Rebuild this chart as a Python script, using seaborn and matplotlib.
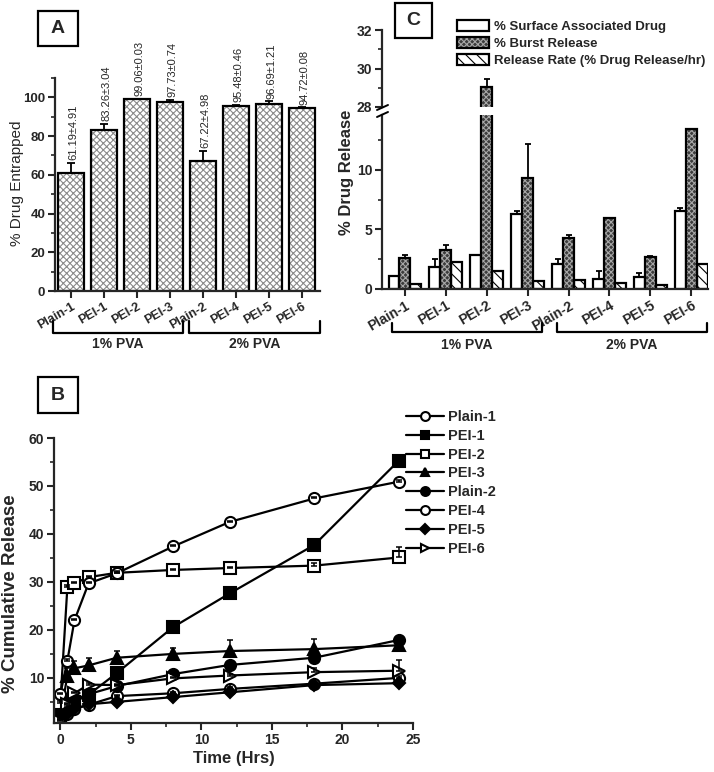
import numpy as np
import pandas as pd
import matplotlib
matplotlib.use("Agg")
import matplotlib.pyplot as plt
import seaborn as sns
from matplotlib.patches import Rectangle, Patch
from matplotlib.lines import Line2D
from matplotlib.ticker import MultipleLocator

sns.set_style("ticks")
plt.rcParams["font.family"] = ["Liberation Sans", "DejaVu Sans"]
plt.rcParams["font.weight"] = "bold"
plt.rcParams["hatch.linewidth"] = 0.8

W, H = 714, 772

# ---- data ----
samples = ["Plain-1", "PEI-1", "PEI-2", "PEI-3", "Plain-2", "PEI-4", "PEI-5", "PEI-6"]

# panel A: % drug entrapped (mean, sd)
entrap_mean = [61.19, 83.26, 99.06, 97.73, 67.22, 95.48, 96.69, 94.72]
entrap_sd = [4.91, 3.04, 0.03, 0.74, 4.98, 0.46, 1.21, 0.08]

# panel C: surface drug, burst release, release rate
surface = [1.05, 1.83, 2.86, 6.33, 2.10, 0.83, 0.97, 6.55]
surface_err = [0.05, 0.72, 0.03, 0.22, 0.45, 0.67, 0.36, 0.28]
burst = [2.64, 3.28, 29.06, 9.35, 4.25, 5.92, 2.72, 13.40]
burst_err = [0.22, 0.42, 0.42, 2.80, 0.28, 0.05, 0.05, 0.05]
rate = [0.42, 2.30, 1.47, 0.69, 0.72, 0.50, 0.36, 2.08]
measures = ["% Surface Associated Drug", "% Burst Release",
            "Release Rate (% Drug Release/hr)"]

# panel B: cumulative release vs time
time_h = [0, 0.5, 1, 2, 4, 8, 12, 18, 24]
cum_plain1 = [1.5, 2.5, 3.5, 4.4, 6.2, 6.8, 7.7, 8.8, 10.0]
cum_pei1 = [2.0, 3.5, 5.0, 6.5, 11.0, 20.6, 27.6, 37.7, 55.3]
cum_pei2 = [4.8, 29.0, 29.7, 31.0, 31.9, 32.5, 32.9, 33.4, 35.1]
cum_pei3 = [2.0, 10.5, 12.0, 12.6, 14.2, 15.0, 15.6, 16.0, 16.8]
cum_plain2 = [2.5, 4.0, 5.5, 6.6, 8.3, 10.8, 12.7, 14.2, 17.9]
cum_pei4 = [6.6, 13.6, 22.0, 29.7, 31.8, 37.4, 42.5, 47.4, 50.9]
cum_pei5 = [1.5, 2.5, 3.5, 4.5, 5.0, 6.0, 7.0, 8.5, 8.9]
cum_pei6 = [1.0, 4.5, 6.8, 8.6, 8.5, 9.9, 10.5, 11.2, 11.5]
err_pei2 = [0.3, 0.3, 0.3, 0.3, 0.3, 0.3, 0.3, 0.5, 2.2]
err_pei3 = [0.5, 1.5, 1.6, 1.6, 1.5, 1.3, 2.3, 2.2, 0.6]
err_pei6 = [0.3, 0.3, 0.3, 0.3, 0.3, 0.3, 0.3, 0.8, 2.3]
err_small = [0.3] * len(time_h)

fig = plt.figure(figsize=(W / 100, H / 100), dpi=100)


def px_axes(left, top, right, bottom):
    return fig.add_axes([left / W, 1 - bottom / H, (right - left) / W, (bottom - top) / H])


def fx(x):
    return x / W


def fy(y):
    return 1 - y / H


def style_axis(ax, spines=("left", "bottom"), labelsize=10):
    for s in ["top", "right", "left", "bottom"]:
        ax.spines[s].set_visible(s in spines)
        ax.spines[s].set_linewidth(1.6)
    ax.tick_params(which="major", direction="out", length=5, width=1.5, labelsize=labelsize, pad=2)
    ax.tick_params(which="minor", direction="out", length=3, width=1.2)


def hatch_bars(ax, patches, face, hatch, hatch_color):
    for p in patches:
        p.set_facecolor(face)
        p.set_hatch(hatch)
        p.set_edgecolor(hatch_color)
        p.set_linewidth(0)
        ax.add_patch(Rectangle(p.get_xy(), p.get_width(), p.get_height(), fill=False,
                               ec="black", lw=1.6, zorder=p.get_zorder() + 0.1))


def bracket(x0, x1, y_top, y_line, label, y_text):
    fig.add_artist(Line2D([fx(x0), fx(x0), fx(x1), fx(x1)],
                          [fy(y_top), fy(y_line), fy(y_line), fy(y_top)],
                          transform=fig.transFigure, color="black", lw=1.6))
    fig.text(fx((x0 + x1) / 2), fy(y_text), label, ha="center", va="center", fontsize=10)


def panel_box(x0, y0, x1, y1, letter):
    fig.add_artist(Rectangle((fx(x0), fy(y1)), fx(x1 - x0), (y1 - y0) / H, fill=False,
                             ec="black", lw=1.6, transform=fig.transFigure))
    fig.text(fx((x0 + x1) / 2), fy((y0 + y1) / 2), letter, ha="center", va="center", fontsize=14)


# =========================== Panel A ===========================
ax_a = px_axes(55, 78, 320, 291)
sns.barplot(x=samples, y=entrap_mean, ax=ax_a, color="white", width=0.77,
            errorbar=None, saturation=1)
hatch_bars(ax_a, ax_a.patches[:], "white", "xxxxx", "#8a8a8a")
ax_a.errorbar(range(len(samples)), entrap_mean, yerr=[np.zeros(len(samples)), entrap_sd],
              fmt="none", ecolor="black", elinewidth=1.3, capsize=3, capthick=1.3, zorder=5)
for i, (m, s) in enumerate(zip(entrap_mean, entrap_sd)):
    ax_a.text(i + 0.08, m + s + 1.5, f"{m:.2f}\u00b1{s:.2f}", rotation=90, ha="center",
              va="bottom", fontsize=8, fontweight="normal")
ax_a.set_ylim(0, 110)
ax_a.set_xlim(-0.48, 7.55)
ax_a.yaxis.set_major_locator(MultipleLocator(20))
ax_a.yaxis.set_minor_locator(MultipleLocator(10))
style_axis(ax_a, labelsize=9.5)
ax_a.set_xticks(range(len(samples)))
ax_a.set_xticklabels(samples, rotation=30, ha="right", rotation_mode="anchor", fontsize=9)
ax_a.set_ylabel("")
fig.text(fx(17), fy(183), "% Drug Entrapped", rotation=90, ha="center", va="center",
         fontsize=11, fontweight="normal")
bracket(53, 183, 321, 333, "1% PVA", 344)
bracket(189, 320, 321, 333, "2% PVA", 344)
panel_box(38, 11, 78, 46, "A")

# =========================== Panel C ===========================
rel = pd.DataFrame({
    "sample": samples * 3,
    "measure": [measures[0]] * 8 + [measures[1]] * 8 + [measures[2]] * 8,
    "value": surface + burst + rate,
})
ax_lo = px_axes(382, 115, 708, 289)
ax_hi = px_axes(382, 30, 708, 107)
styles = [("white", "", "black"), ("#3c3c3c", "xxxxxx", "#a8a8a8"), ("white", "\\\\\\", "black")]
for ax in (ax_lo, ax_hi):
    sns.barplot(data=rel, x="sample", y="value", hue="measure", hue_order=measures, ax=ax,
                width=0.8, errorbar=None, legend=False, saturation=1)
    for cont, (face, hatch, hc) in zip(ax.containers, styles):
        hatch_bars(ax, list(cont.patches), face, hatch, hc)
    for cont, vals, errs in zip(ax.containers[:2], [surface, burst], [surface_err, burst_err]):
        xs = [p.get_x() + p.get_width() / 2 for p in cont.patches]
        ax.errorbar(xs, vals, yerr=[np.zeros(len(vals)), errs], fmt="none", ecolor="black",
                    elinewidth=1.3, capsize=2.5, capthick=1.3, zorder=5)
    ax.set_xlim(-0.56, 7.41)
    ax.set_xlabel("")
    ax.set_ylabel("")

ax_lo.set_ylim(0, 14.6)
ax_lo.yaxis.set_major_locator(MultipleLocator(5))
ax_lo.yaxis.set_minor_locator(MultipleLocator(2.5))
style_axis(ax_lo)
ax_lo.set_xticks(range(len(samples)))
ax_lo.set_xticklabels(samples, rotation=30, ha="right", rotation_mode="anchor", fontsize=10)

ax_hi.set_ylim(28, 32)
ax_hi.yaxis.set_major_locator(MultipleLocator(2))
ax_hi.yaxis.set_minor_locator(MultipleLocator(1))
style_axis(ax_hi, spines=("left",))
ax_hi.set_xticks([])

for yb in (105, 112):
    fig.add_artist(Line2D([fx(377), fx(388)], [fy(yb + 5), fy(yb)], transform=fig.transFigure,
                          color="black", lw=1.4))
fig.text(fx(346), fy(172), "% Drug Release", rotation=90, ha="center", va="center", fontsize=12)

leg_handles = []
for face, hatch, hc in styles:
    leg_handles.append((Patch(facecolor=face, hatch=hatch, edgecolor=hc, lw=0),
                        Patch(fill=False, edgecolor="black", lw=1.6)))
fig.legend(leg_handles, measures, loc="upper left", bbox_to_anchor=(fx(457), fy(20)),
           frameon=False, fontsize=9.5, handlelength=2.4, handleheight=0.9,
           labelspacing=0.3, handletextpad=0.4, borderpad=0, borderaxespad=0)
bracket(392, 542, 323, 332, "1% PVA", 345)
bracket(557, 707, 323, 332, "2% PVA", 345)
panel_box(395, 3, 432, 38, "C")

# =========================== Panel B ===========================
ax_b = px_axes(54, 438, 413, 723)
series = [
    ("Plain-1", cum_plain1, err_small, "o", False),
    ("PEI-1", cum_pei1, err_small, "s", True),
    ("PEI-2", cum_pei2, err_pei2, "s", False),
    ("PEI-3", cum_pei3, err_pei3, "^", True),
    ("Plain-2", cum_plain2, err_small, "o", True),
    ("PEI-4", cum_pei4, err_small, "o", False),
    ("PEI-5", cum_pei5, err_small, "D", True),
    ("PEI-6", cum_pei6, err_pei6, ">", False),
]
handles = []
for name, vals, errs, mk, filled in series:
    sns.lineplot(x=time_h, y=vals, ax=ax_b, color="black", marker=mk, markersize=8 if mk != "D" else 6.5,
                 markerfacecolor="black" if filled else "white", markeredgecolor="black",
                 markeredgewidth=1.5, linewidth=1.6, sort=False, errorbar=None)
    handles.append(ax_b.lines[-1])
    ax_b.errorbar(time_h, vals, yerr=[np.zeros(len(vals)), errs], fmt="none", ecolor="black",
                  elinewidth=1.1, capsize=2.5, capthick=1.1, zorder=4)
ax_b.set_xlim(-0.45, 25)
ax_b.set_ylim(0.6, 60)
ax_b.xaxis.set_major_locator(MultipleLocator(5))
ax_b.xaxis.set_minor_locator(MultipleLocator(2.5))
ax_b.yaxis.set_major_locator(MultipleLocator(10))
ax_b.yaxis.set_minor_locator(MultipleLocator(5))
ax_b.set_yticks([10, 20, 30, 40, 50, 60])
style_axis(ax_b)
ax_b.set_xlabel("")
ax_b.set_ylabel("")
fig.text(fx(11), fy(594), "% Cumulative Release", rotation=90, ha="center", va="center", fontsize=13.5)
fig.text(fx(234), fy(758), "Time (Hrs)", ha="center", va="center", fontsize=12)
fig.legend(handles, [s[0] for s in series], loc="upper left", bbox_to_anchor=(fx(406), fy(410)),
           frameon=False, fontsize=10.5, handlelength=2.6, handletextpad=0.3, labelspacing=0.33,
           borderpad=0, borderaxespad=0, markerscale=0.8)
panel_box(38, 377, 78, 413, "B")

fig.savefig("out.png", dpi=100)
